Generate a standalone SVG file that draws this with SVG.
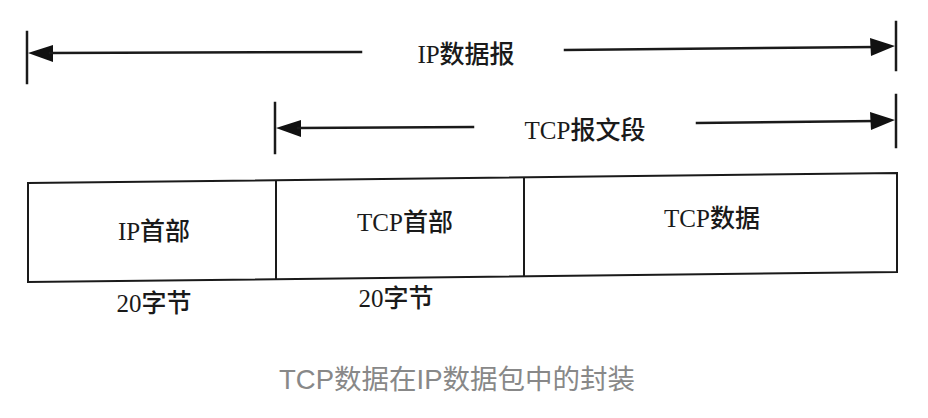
<svg xmlns="http://www.w3.org/2000/svg" width="928" height="418" viewBox="0 0 928 418">
<style>
.ln{stroke:#1a1a1a;stroke-width:2.5;fill:none;stroke-linecap:square}
.bx{stroke:#1a1a1a;stroke-width:2;fill:none}
.ah{fill:#111;stroke:none}
.t{font-family:"Liberation Serif","Noto Sans CJK SC",serif;font-size:25px;font-weight:500;fill:#1a1a1a}
.cap{font-family:"Liberation Sans","Noto Sans CJK SC",sans-serif;font-size:27.5px;fill:#888}
</style>
<rect width="928" height="418" fill="#fff"/>
<g id="connectors">
  <g id="ip-datagram-span">
    <line class="ln" x1="27" y1="32" x2="27" y2="83"/>
    <polygon class="ah" points="28,53 53,45 53,62"/>
    <line class="ln" x1="50" y1="53" x2="361" y2="52"/>
    <line class="ln" x1="565" y1="50" x2="875" y2="47"/>
    <polygon class="ah" points="895,46 870,38 871,56"/>
    <line class="ln" x1="896" y1="22" x2="896" y2="70"/>
  </g>
  <g id="tcp-segment-span">
    <line class="ln" x1="275" y1="103" x2="275" y2="153"/>
    <polygon class="ah" points="276,128 301,120 301,137"/>
    <line class="ln" x1="298" y1="128" x2="473" y2="127"/>
    <line class="ln" x1="697" y1="123" x2="875" y2="121"/>
    <polygon class="ah" points="895,120 870,112 871,130"/>
    <line class="ln" x1="896" y1="95" x2="896" y2="147"/>
  </g>
</g>
<text class="t" x="466" y="63" text-anchor="middle">IP数据报</text>
<text class="t" x="585" y="139" text-anchor="middle">TCP报文段</text>
<g id="packet">
  <polygon class="bx" points="28,183 897,173 897,272 28,282"/>
</g>
<g id="ip-header">
  <line class="bx" x1="276" y1="180" x2="276" y2="280"/>
  <text class="t" x="154" y="240" text-anchor="middle">IP首部</text>
  <text class="t" x="154" y="312" text-anchor="middle">20字节</text>
</g>
<g id="tcp-header">
  <line class="bx" x1="524" y1="177" x2="524" y2="276"/>
  <text class="t" x="405" y="231" text-anchor="middle">TCP首部</text>
  <text class="t" x="396" y="307" text-anchor="middle">20字节</text>
</g>
<g id="tcp-data">
  <text class="t" x="712" y="227" text-anchor="middle">TCP数据</text>
</g>
<text class="cap" x="457" y="389" text-anchor="middle">TCP数据在IP数据包中的封装</text>
</svg>
